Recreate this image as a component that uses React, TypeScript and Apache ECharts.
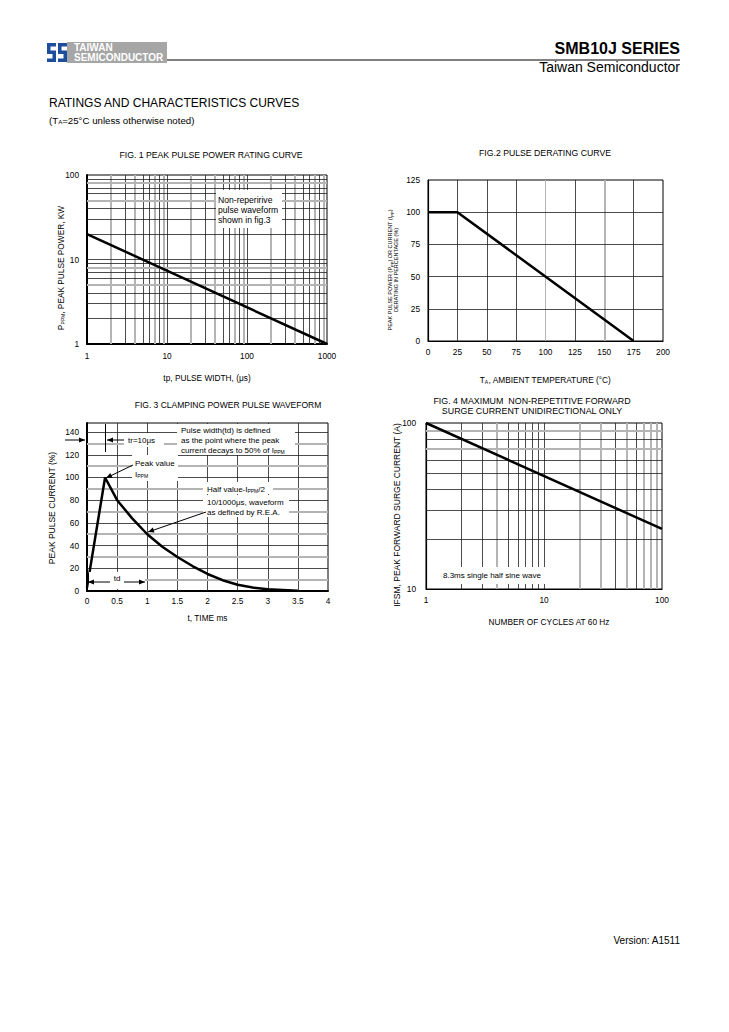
import React, { useEffect, useRef } from "react";
import * as echarts from "echarts";

const FONT = '"Liberation Sans", Arial, Helvetica, sans-serif';

// ---------- DATA ----------
// Fig.1 peak pulse power rating curve (log-log)
const fig1PulseWidthUs = [1, 1000];
const fig1PeakPowerKw = [20, 1];
// Fig.2 pulse derating curve
const fig2TempC = [0, 25, 175];
const fig2DeratingPct = [100, 100, 0];
// Fig.3 clamping power pulse waveform
const fig3TimeMs = [0, 0.3, 0.5, 0.75, 1, 1.25, 1.5, 1.75, 2, 2.25, 2.5, 2.75, 3, 3.5];
const fig3CurrentPct = [3, 100, 80, 64, 50, 39, 30, 22, 15, 9.5, 5.5, 3, 1.5, 0.3];
// Fig.4 max non-repetitive forward surge current
const fig4Cycles = [1, 100];
const fig4SurgeA = [100, 23];

// grid-line positions
const fig1Decades = [1, 10, 100];
const fig1YDecades = [1, 10];
const fig1GrayX = [2, 4, 7, 9];
const fig1GrayY = [5, 8];
const fig2XLines = [25, 50, 75, 100, 125, 150, 175];
const fig2YLines = [25, 50, 75, 100];
const fig3XLines = [0.5, 1, 1.5, 2, 2.5, 3, 3.5];
const fig3YLines = [10, 20, 30, 40, 50, 60, 70, 80, 90, 100, 110, 120, 130, 140];
const fig4XLines = [2, 3, 4, 5, 6, 7, 8, 9, 10, 20, 30, 40, 50, 60, 70, 80, 90];
const fig4GrayX = [4, 20, 30, 50, 70, 80, 90];
const fig4YLines = [20, 30, 40, 50, 60, 70, 80, 90];
const fig4GrayY = [70, 90];

const zip = (a: number[], b: number[]) => a.map((v, i) => [v, b[i]]);

const THIN = { color: "#1e1e1e", width: 0.8, type: "solid" };
const GRAY = { color: "#b4b4b4", width: 2, type: "solid" };
const LIGHT = { color: "#b4b4b4", width: 1, type: "solid" };

type GL = { axis: "xAxis" | "yAxis"; v: number; s: any };

function gridSeries(i: number, lines: GL[]) {
  return {
    type: "line",
    xAxisIndex: i,
    yAxisIndex: i,
    data: [],
    silent: true,
    z: 1,
    markLine: {
      silent: true,
      symbol: ["none", "none"],
      label: { show: false },
      emphasis: { disabled: true },
      data: lines.map((l) => ({ [l.axis]: l.v, lineStyle: l.s })),
    },
  };
}

function dataSeries(i: number, data: number[][]) {
  return {
    type: "line",
    xAxisIndex: i,
    yAxisIndex: i,
    data,
    symbol: "none",
    showSymbol: false,
    silent: true,
    z: 5,
    lineStyle: { color: "#000", width: 2.5 },
  };
}

function logLines(axis: "xAxis" | "yAxis", decades: number[], gray: number[]): GL[] {
  const out: GL[] = [];
  decades.forEach((d, di) => {
    for (let m = 2; m <= 9; m++) out.push({ axis, v: m * d, s: gray.includes(m) ? GRAY : THIN });
    if (di < decades.length - 1) out.push({ axis, v: 10 * d, s: THIN });
  });
  return out;
}

const SUB = { fontSize: 5, fontFamily: FONT, fill: "#000", color: "#000", verticalAlign: "bottom", padding: [4, 0, 0, 0] };

function txt(x: number, y: number, text: string, o: any = {}) {
  return {
    type: "text",
    x,
    y,
    z: 12,
    rotation: o.rot ?? 0,
    style: {
      text,
      fontFamily: FONT,
      fontSize: o.size ?? 8,
      fontWeight: o.weight ?? "normal",
      fill: o.color ?? "#000",
      textAlign: o.align ?? "left",
      verticalAlign: "middle",
      lineHeight: o.lh ?? undefined,
      rich: { s: { ...SUB, fontSize: o.sub ?? 5 }, n: { fontFamily: FONT, fontSize: o.size ?? 8, fill: o.color ?? "#000" } },
    },
  };
}

function box(x: number, y: number, w: number, h: number) {
  return { type: "rect", z: 10, shape: { x, y, width: w, height: h }, style: { fill: "#fff" } };
}

function arrow(x1: number, y1: number, x2: number, y2: number, both = false) {
  const head = (tx: number, ty: number, fx: number, fy: number) => {
    const dx = tx - fx, dy = ty - fy, L = Math.hypot(dx, dy);
    const ux = dx / L, uy = dy / L;
    const bx = tx - ux * 6, by = ty - uy * 6;
    return {
      type: "polygon",
      z: 13,
      shape: { points: [[tx, ty], [bx - uy * 2.6, by + ux * 2.6], [bx + uy * 2.6, by - ux * 2.6]] },
      style: { fill: "#000" },
    };
  };
  const els: any[] = [
    { type: "line", z: 13, shape: { x1, y1, x2, y2 }, style: { stroke: "#000", lineWidth: 1 } },
    head(x2, y2, x1, y1),
  ];
  if (both) els.push(head(x1, y1, x2, y2));
  return els;
}

const logoPath =
  "M0 0H9V3.5H3.5V7.5H9V19H0V15.5H5.5V11H0Z M11 0H20V3.5H14.5V7.5H20V19H11V15.5H16.5V11H11Z";

const TITLE = 8.7;

export default function App() {
  const ref = useRef<HTMLDivElement>(null);
  useEffect(() => {
    if (!ref.current) return;
    echarts.graphic.registerShape("tsLogo", echarts.graphic.extendPath(logoPath, {}) as any);
    const chart = echarts.init(ref.current, undefined, { renderer: "svg" });

    const axLabel = (margin: number, fmt?: any) => ({
      fontSize: 8.3,
      color: "#000",
      fontFamily: FONT,
      margin,
      formatter: fmt,
    });
    const axLine = (w: number) => ({ show: true, onZero: false, lineStyle: { color: "#000", width: w } });
    const nameStyle = { fontSize: 8.3, color: "#000", fontFamily: FONT, rich: { s: { ...SUB }, n: { fontSize: 8.3, fontFamily: FONT, color: "#000" } } };
    const logFmt = (v: number) => String(Math.round(v));

    const grid = [
      { left: 87, top: 175, width: 240, height: 169 },
      { left: 428, top: 180, width: 235, height: 161 },
      { left: 87, top: 423, width: 241, height: 168 },
      { left: 426, top: 423, width: 236, height: 166 },
    ].map((g) => ({ ...g, show: true, borderColor: "#000", borderWidth: 1, backgroundColor: "transparent" }));

    const xAxis = [
      {
        gridIndex: 0, type: "log", logBase: 10, min: 1, max: 1000,
        axisLine: axLine(2), axisTick: { show: false }, splitLine: { show: false },
        axisLabel: axLabel(8, logFmt),
        name: "tp, PULSE WIDTH, (μs)", nameLocation: "middle", nameGap: 30, nameTextStyle: nameStyle,
      },
      {
        gridIndex: 1, type: "value", min: 0, max: 200, interval: 25,
        axisLine: axLine(1.2), axisTick: { show: false }, splitLine: { show: false },
        axisLabel: axLabel(7),
        name: "T{s|A}, AMBIENT TEMPERATURE (°C)", nameLocation: "middle", nameGap: 34, nameTextStyle: nameStyle,
      },
      {
        gridIndex: 2, type: "value", min: 0, max: 4, interval: 0.5,
        axisLine: axLine(2), axisTick: { show: false }, splitLine: { show: false },
        axisLabel: axLabel(6),
        name: "t, TIME ms", nameLocation: "middle", nameGap: 23, nameTextStyle: nameStyle,
      },
      {
        gridIndex: 3, type: "log", logBase: 10, min: 1, max: 100,
        axisLine: axLine(1.2), axisTick: { show: false }, splitLine: { show: false },
        axisLabel: axLabel(7, logFmt),
        name: "NUMBER OF CYCLES AT 60 Hz", nameLocation: "middle", nameGap: 29,
        nameTextStyle: { ...nameStyle, padding: [0, 0, 0, 10] },
      },
    ];

    const yAxis = [
      {
        gridIndex: 0, type: "log", logBase: 10, min: 1, max: 100,
        axisLine: axLine(2), axisTick: { show: false }, splitLine: { show: false },
        axisLabel: axLabel(8, logFmt),
      },
      {
        gridIndex: 1, type: "value", min: 0, max: 125, interval: 25,
        axisLine: axLine(1.2), axisTick: { show: false }, splitLine: { show: false },
        axisLabel: axLabel(8),
      },
      {
        gridIndex: 2, type: "value", min: 0, max: 148, interval: 20,
        axisLine: axLine(2), axisTick: { show: false }, splitLine: { show: false },
        axisLabel: axLabel(8, (v: number) => (v > 140 ? "" : String(v))),
      },
      {
        gridIndex: 3, type: "log", logBase: 10, min: 10, max: 100,
        axisLine: axLine(1.2), axisTick: { show: false }, splitLine: { show: false },
        axisLabel: axLabel(10, logFmt),
      },
    ];

    const g1: GL[] = [...logLines("xAxis", fig1Decades, fig1GrayX), ...logLines("yAxis", fig1YDecades, fig1GrayY)];
    const g2: GL[] = [
      ...fig2XLines.map((v) => ({ axis: "xAxis" as const, v, s: v === 150 ? GRAY : v === 100 ? LIGHT : THIN })),
      ...fig2YLines.map((v) => ({ axis: "yAxis" as const, v, s: THIN })),
    ];
    const g3: GL[] = [
      ...fig3XLines.map((v) => ({ axis: "xAxis" as const, v, s: THIN })),
      ...fig3YLines.map((v) => ({ axis: "yAxis" as const, v, s: v % 20 === 0 ? THIN : GRAY })),
    ];
    const g4: GL[] = [
      ...fig4XLines.map((v) => ({ axis: "xAxis" as const, v, s: fig4GrayX.includes(v) ? GRAY : THIN })),
      ...fig4YLines.map((v) => ({ axis: "yAxis" as const, v, s: fig4GrayY.includes(v) ? GRAY : THIN })),
    ];

    const series = [
      gridSeries(0, g1),
      gridSeries(1, g2),
      gridSeries(2, g3),
      gridSeries(3, g4),
      dataSeries(0, zip(fig1PulseWidthUs, fig1PeakPowerKw)),
      dataSeries(1, zip(fig2TempC, fig2DeratingPct)),
      dataSeries(2, zip(fig3TimeMs, fig3CurrentPct)),
      dataSeries(3, zip(fig4Cycles, fig4SurgeA)),
    ];

    const graphic: any[] = [
      // header
      { type: "tsLogo", x: 47, y: 43, z: 10, style: { fill: "#1c4e9d" } },
      { type: "rect", z: 10, shape: { x: 67, y: 42, width: 100, height: 21 }, style: { fill: "#a6a6a6" } },
      txt(74, 47.5, "TAIWAN", { size: 10, weight: "bold", color: "#fff" }),
      txt(74, 57.5, "SEMICONDUCTOR", { size: 10, weight: "bold", color: "#fff" }),
      { type: "line", z: 10, shape: { x1: 167, y1: 60, x2: 680, y2: 60 }, style: { stroke: "#000", lineWidth: 1 } },
      txt(680, 48, "SMB10J SERIES", { size: 16, weight: "bold", align: "right" }),
      txt(680, 67, "Taiwan Semiconductor", { size: 14, align: "right" }),
      txt(49, 103, "RATINGS AND CHARACTERISTICS CURVES", { size: 12 }),
      txt(49, 120, "(T{s|A}=25°C unless otherwise noted)", { size: 9.7, sub: 6 }),
      // titles
      txt(211, 155, "FIG. 1 PEAK PULSE POWER RATING CURVE", { align: "center", size: TITLE }),
      txt(545, 153, "FIG.2 PULSE DERATING CURVE", { align: "center", size: TITLE }),
      txt(228, 405, "FIG. 3 CLAMPING POWER PULSE WAVEFORM", { align: "center", size: 8.5 }),
      txt(532, 406, "FIG. 4 MAXIMUM  NON-REPETITIVE FORWARD\nSURGE CURRENT UNIDIRECTIONAL ONLY", { align: "center", lh: 10, size: 8.9 }),
      // rotated y-axis names
      txt(61, 268, "P{s|PPM}, PEAK PULSE POWER, KW", { align: "center", rot: Math.PI / 2, size: 8.3 }),
      txt(390, 270, "PEAK PULSE POWER (P{s|PP}) OR CURRENT (I{s|PP})", { align: "center", rot: Math.PI / 2, size: 5.5, sub: 4 }),
      txt(396, 270, "DERATING IN PERCENTAGE (%)", { align: "center", rot: Math.PI / 2, size: 5.5 }),
      txt(52, 508, "PEAK PULSE CURRENT (%)", { align: "center", rot: Math.PI / 2, size: 8.5 }),
      txt(397, 515, "IFSM, PEAK FORWARD SURGE CURRENT (A)", { align: "center", rot: Math.PI / 2, size: 8.5 }),
      // fig1 annotation
      box(216, 190, 66, 38),
      txt(218, 200, "Non-reperirive", { size: 8.6 }),
      txt(218, 210, "pulse waveform", { size: 8.6 }),
      txt(218, 220, "shown in fig.3", { size: 8.6 }),
      // fig3 annotations
      box(177, 424, 118, 31),
      txt(181, 430, "Pulse width(td) is defined"),
      txt(181, 440, "as the point where the peak"),
      txt(181, 450, "current decays to 50% of I{s|PPM}"),
      box(124, 433, 40, 14),
      txt(128, 440, "tr=10μs"),
      { type: "line", z: 13, shape: { x1: 105.5, y1: 424, x2: 105.5, y2: 452 }, style: { stroke: "#000", lineWidth: 1 } },
      ...arrow(65, 440, 85, 440),
      ...arrow(124, 440, 107, 440),
      box(132, 455, 46, 26),
      txt(135, 463, "Peak value"),
      txt(135, 474, "I{s|PPM}"),
      ...arrow(133, 465, 106, 478),
      box(203, 482, 70, 12),
      txt(207, 489, "Half value-I{s|PPM}/2"),
      box(203, 495, 86, 22),
      txt(207, 502, "10/1000μs, waveform"),
      txt(207, 512, "as defined by R.E.A."),
      ...arrow(206, 512, 148, 532),
      box(89, 572, 56, 17),
      txt(117, 578, "td", { align: "center" }),
      ...arrow(110, 582, 88, 582),
      ...arrow(124, 582, 145, 582),
      // fig4 annotation
      box(438, 567, 107, 17),
      txt(443, 575, "8.3ms single half sine wave"),
      // footer
      txt(680, 940, "Version: A1511", { size: 10, align: "right" }),
    ];

    chart.setOption({
      animation: false,
      backgroundColor: "#fff",
      textStyle: { fontFamily: FONT },
      grid,
      xAxis,
      yAxis,
      series,
      graphic,
    } as any);
    return () => chart.dispose();
  }, []);
  return <div ref={ref} style={{ position: "absolute", left: 0, top: 0, width: 729, height: 1032 }} />;
}
